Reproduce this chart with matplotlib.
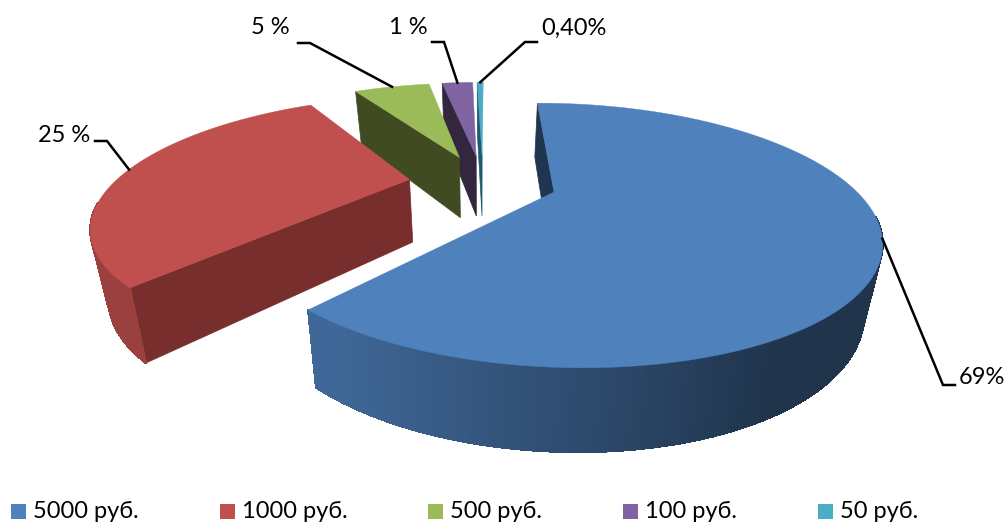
#!/usr/bin/env python3
import numpy as np
import matplotlib
matplotlib.use('Agg')
import matplotlib.pyplot as plt
from matplotlib.collections import LineCollection, PolyCollection
from matplotlib.patches import Polygon, Rectangle

# data
categories = ['5000 руб.', '1000 руб.', '500 руб.', '100 руб.', '50 руб.']
drawn_shares = [61.5, 30.0, 5.6, 2.3, 0.45]
point_labels = ['69%', '25 %', '5 %', '1 %', '0,40%']
top_colors = ['#4f81bd', '#c0504d', '#9bbb59', '#8064a2', '#4bacc6']
face_colors = ['#1f3550', '#772e2c', '#404b22', '#33273f', '#1f5b6c']

# camera / pie layout, fitted by eye
START = -0.5
ORIGIN = (553.0, 192.0)
A, B, P, K = 303.0, 118.0, 0.328, 19.0
CENTER = (-0.233, 0.087)
EXPLODE = 0.252

# leader line: where on the slice it starts (0-1 along the arc), elbow, end, text pos
leaders = [
    (0.5, (943, 385), (955, 385), (959, 378, 'left')),
    (0.5, (107, 141), (95, 141), (90, 135, 'right')),
    (0.5, (310, 43), (298, 43), (290, 28, 'right')),
    (0.5, (444, 42), (432, 42), (428, 28, 'right')),
    (0.5, (525, 42), (537, 42), (541, 28, 'left')),
]
legend_x = [11, 220, 428, 623, 818]

FONT = ['Lato', 'Open Sans', 'DejaVu Sans']


def project(u, v):
    w = 1 + P * v
    return ORIGIN[0] + (A * u - K * v) / w, ORIGIN[1] - B * v / w


def drop(x, y):
    # top plane -> bottom plane of the pie
    return x + 0.046 * (480 - x), y + 42 + 0.115 * y


def main():
    plt.rcParams['font.family'] = FONT
    fig = plt.figure(figsize=(10.08, 5.25), dpi=100)
    ax = fig.add_axes([0, 0, 1, 1])
    ax.set_xlim(0, 1008)
    ax.set_ylim(525, 0)
    ax.axis('off')

    sweeps = np.array(drawn_shares) / sum(drawn_shares) * 360
    starts = START + np.concatenate([[0], np.cumsum(sweeps)[:-1]])

    # back slices first, blue goes on top of everything
    for i in reversed(range(len(sweeps))):
        phi = np.radians(np.linspace(starts[i], starts[i] + sweeps[i], max(int(sweeps[i]) * 2, 4)))
        mid = np.radians(starts[i] + sweeps[i] / 2)
        cu = CENTER[0] + EXPLODE * np.sin(mid)
        cv = CENTER[1] + EXPLODE * np.cos(mid)
        rgb = np.array(matplotlib.colors.to_rgb(top_colors[i]))

        rim_x, rim_y = project(cu + np.sin(phi), cv + np.cos(phi))
        ap_x, ap_y = project(cu, cv)
        bot_x, bot_y = drop(rim_x, rim_y)
        apb_x, apb_y = drop(ap_x, ap_y)
        z = 2 * (5 - i)

        # only the start face looks at the camera here
        ax.add_patch(Polygon([(ap_x, ap_y), (rim_x[0], rim_y[0]), (bot_x[0], bot_y[0]), (apb_x, apb_y)],
                             fc=face_colors[i], ec=face_colors[i], lw=0.5, zorder=z))

        # outer wall with the shading going round, front part only
        quads, edges, cols = [], [], []
        for k in range(len(phi) - 1):
            m = (phi[k] + phi[k + 1]) / 2
            if np.cos(m) > -0.2:
                continue
            quads.append([(rim_x[k], rim_y[k]), (rim_x[k + 1], rim_y[k + 1]),
                          (bot_x[k + 1], bot_y[k + 1]), (bot_x[k], bot_y[k])])
            edges.append([(bot_x[k], bot_y[k]), (bot_x[k + 1], bot_y[k + 1])])
            cols.append(rgb * np.clip(0.58 - 0.38 * np.sin(m), 0.4, 0.8))
        if quads:
            ax.add_collection(PolyCollection(quads, facecolors=cols, edgecolors=cols, linewidths=0.8,
                                             antialiaseds=False, zorder=z))
            # the polys above are not antialiased, this smooths the lower edge
            ax.add_collection(LineCollection(edges, colors=cols, linewidths=1.0, zorder=z))

        # top
        ax.add_patch(Polygon(list(zip(rim_x, rim_y)) + [(ap_x, ap_y)], fc=top_colors[i], ec=top_colors[i],
                             lw=0.3, zorder=z + 1))

        # leader and label
        frac, elbow, end, txt = leaders[i]
        a = phi[0] + frac * (phi[-1] - phi[0])
        sx, sy = project(cu + np.sin(a), cv + np.cos(a))
        ax.plot([sx, elbow[0], end[0]], [sy, elbow[1], end[1]], color='black', lw=1.8, zorder=20,
                solid_joinstyle='miter')
        ax.text(txt[0], txt[1], point_labels[i], ha=txt[2], va='center', fontsize=17, color='black', zorder=21)

    # legend
    for x, name, col in zip(legend_x, categories, top_colors):
        ax.add_patch(Rectangle((x, 504), 15, 15, fc=col, ec='none'))
        ax.text(x + 22, 511, name, ha='left', va='center', fontsize=17, color='black')

    fig.savefig('out.png', dpi=100)


if __name__ == '__main__':
    main()
